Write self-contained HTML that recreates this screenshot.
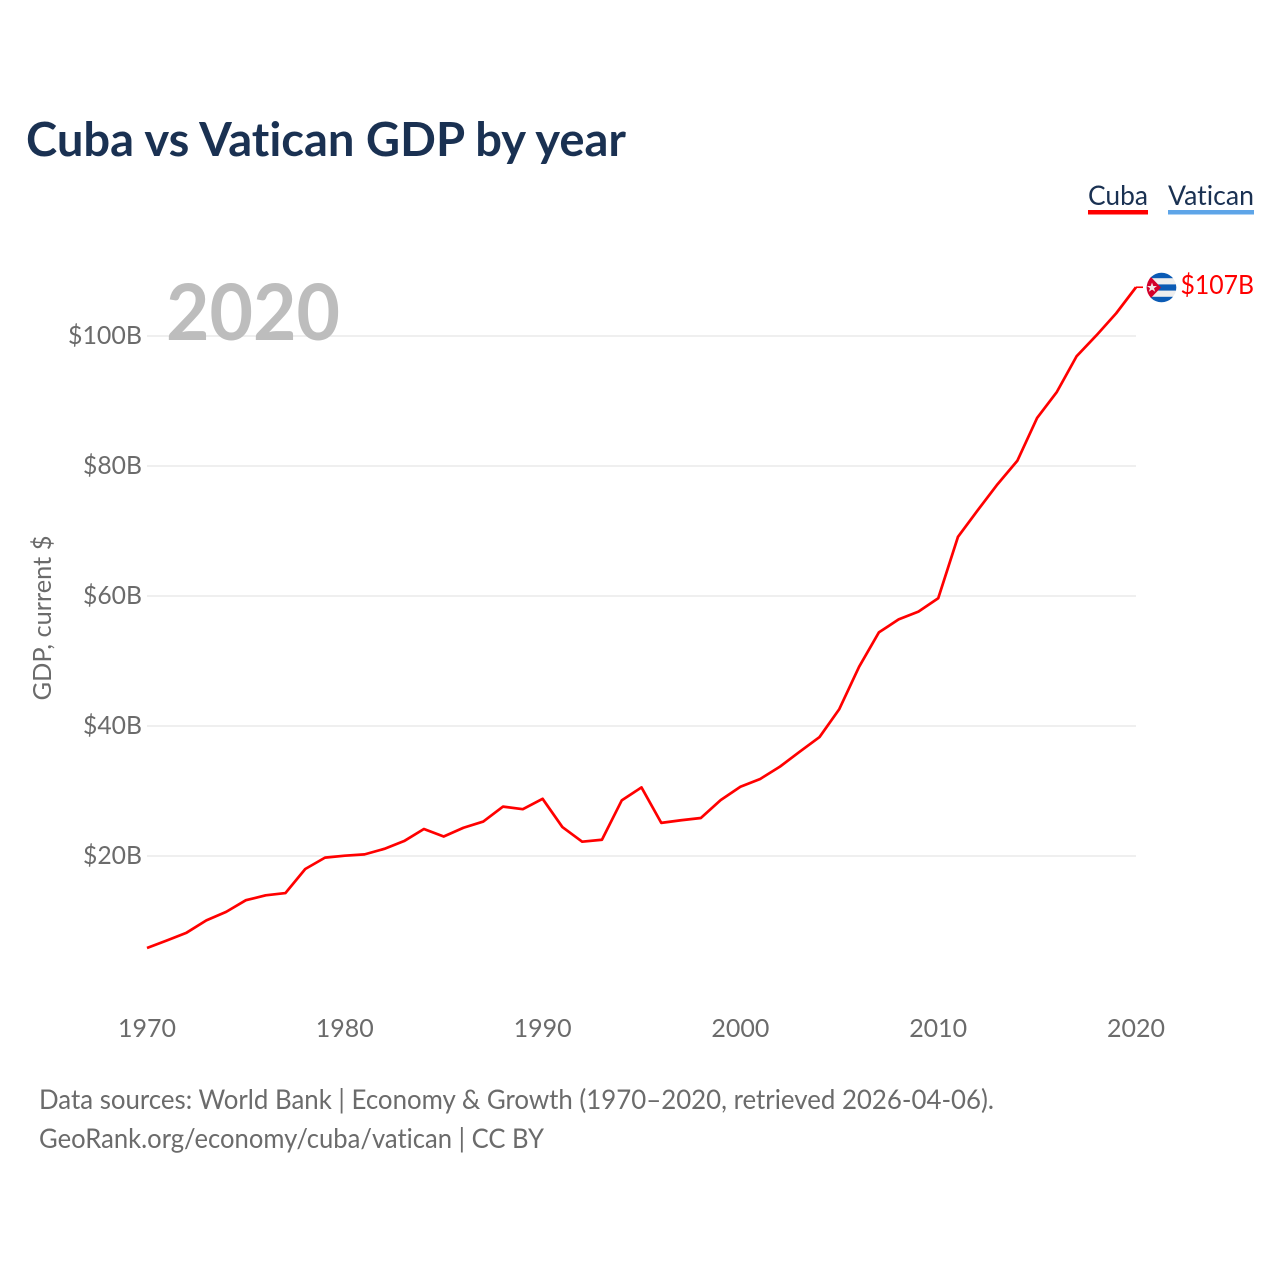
<!DOCTYPE html>
<html lang="en">
<head>
<meta charset="utf-8">
<title>Cuba vs Vatican GDP by year</title>
<style>
html,body{margin:0;padding:0;background:#fff;}
svg{display:block;}
text{font-family:"Lato","Carlito","Liberation Sans",sans-serif;font-variant-ligatures:none;}
</style>
</head>
<body>
<svg id="chart" width="1280" height="1280" viewBox="0 0 1280 1280" xmlns="http://www.w3.org/2000/svg">
  <defs><clipPath id="flag-clip"><circle cx="1161.5" cy="287.5" r="14.8"/></clipPath></defs>
  <text x="26" y="156" font-size="47" font-weight="700" fill="#1a3152" textLength="600" lengthAdjust="spacingAndGlyphs">Cuba vs Vatican GDP by year</text>
  <g>
    <g>
      <text x="1088" y="205" font-size="27.5" fill="#1a3152" textLength="60" lengthAdjust="spacingAndGlyphs">Cuba</text>
      <rect x="1088" y="210" width="60" height="4.5" fill="#ff0000"/>
    </g>
    <g>
      <text x="1168" y="205" font-size="27.5" fill="#1a3152" textLength="86" lengthAdjust="spacingAndGlyphs">Vatican</text>
      <rect x="1168" y="210" width="86" height="4.5" fill="#5ea5e8"/>
    </g>
  </g>
  <g id="grid"></g>
  <text x="166" y="340" font-size="78" font-weight="700" fill="#bdbdbd" textLength="174" lengthAdjust="spacingAndGlyphs">2020</text>
  <g id="yticks"></g>
  <g id="xticks"></g>
  <text transform="translate(51,618) rotate(-90)" text-anchor="middle" font-size="25.5" fill="#6b6b6b" textLength="165" lengthAdjust="spacingAndGlyphs">GDP, current $</text>
  <path id="line-cuba" fill="none" stroke="#ff0000" stroke-width="2.7" stroke-linejoin="round"/>
  <path id="connector" fill="none" stroke="#ff0000" stroke-width="1.6"/>
  <g id="flag" clip-path="url(#flag-clip)">
    <rect x="1146" y="272" width="32" height="31" fill="#eeeeee"/>
    <rect x="1146" y="272" width="32" height="6.2" fill="#0b5bb5"/>
    <rect x="1146" y="284.4" width="32" height="6.2" fill="#0b5bb5"/>
    <rect x="1146" y="296.8" width="32" height="6.2" fill="#0b5bb5"/>
    <polygon points="1146,272 1161,287.5 1146,303" fill="#d3002a"/>
    <polygon points="1152,282.5 1153.3,286 1157,286 1154,288.2 1155.2,291.8 1152,289.6 1148.8,291.8 1150,288.2 1147,286 1150.7,286" fill="#f2e6e6"/>
  </g>
  <text x="1180.5" y="294" font-size="26.5" fill="#ff0000" textLength="73.5" lengthAdjust="spacingAndGlyphs">$107B</text>
  <text x="39" y="1109" font-size="27.5" fill="#6b6b6b" textLength="955" lengthAdjust="spacingAndGlyphs">Data sources: World Bank | Economy &amp; Growth (1970–2020, retrieved 2026-04-06).</text>
  <text x="39" y="1148" font-size="27.5" fill="#6b6b6b" textLength="505" lengthAdjust="spacingAndGlyphs">GeoRank.org/economy/cuba/vatican | CC BY</text>
</svg>
<script>
const years = [1970,1971,1972,1973,1974,1975,1976,1977,1978,1979,1980,1981,1982,1983,1984,1985,1986,1987,1988,1989,1990,1991,1992,1993,1994,1995,1996,1997,1998,1999,2000,2001,2002,2003,2004,2005,2006,2007,2008,2009,2010,2011,2012,2013,2014,2015,2016,2017,2018,2019,2020];
const cubaGdp = [5.85,7.0,8.2,10.1,11.4,13.2,13.95,14.3,18.0,19.75,20.05,20.25,21.1,22.3,24.15,23.0,24.35,25.3,27.6,27.2,28.8,24.45,22.2,22.5,28.55,30.55,25.1,25.5,25.85,28.6,30.65,31.85,33.75,36.05,38.3,42.6,49.1,54.4,56.4,57.6,59.65,69.1,73.2,77.2,80.8,87.4,91.4,96.9,100.1,103.5,107.5];
const yTickValues = [20,40,60,80,100];
const yTickLabels = ["$20B","$40B","$60B","$80B","$100B"];
const xTickValues = [1970,1980,1990,2000,2010,2020];
const xTickLabels = ["1970","1980","1990","2000","2010","2020"];

const xScale = function (yr) { return 147 + (yr - 1970) * 19.78; };
const yScale = function (v) { return 986 - v * 6.5; };
const NS = "http://www.w3.org/2000/svg";

const gridGroup = document.getElementById("grid");
const yGroup = document.getElementById("yticks");
yTickValues.forEach(function (v, i) {
  const ln = document.createElementNS(NS, "line");
  
  
  ln.setAttribute("x1", xScale(1970));
  ln.setAttribute("x2", xScale(2020));
  ln.setAttribute("y1", yScale(v));
  ln.setAttribute("y2", yScale(v));
  ln.setAttribute("stroke", "#efefef");
  ln.setAttribute("stroke-width", "2");
  gridGroup.appendChild(ln);
  const t = document.createElementNS(NS, "text");
  
  
  t.setAttribute("x", 142);
  t.setAttribute("y", yScale(v) + 8);
  t.setAttribute("text-anchor", "end");
  t.setAttribute("font-size", "25.5");
  t.setAttribute("fill", "#6b6b6b");
  t.setAttribute("textLength", yTickLabels[i].length === 5 ? 74 : 59);
  t.setAttribute("lengthAdjust", "spacingAndGlyphs");
  t.textContent = yTickLabels[i];
  yGroup.appendChild(t);
});

const xGroup = document.getElementById("xticks");
xTickValues.forEach(function (yr, i) {
  const t = document.createElementNS(NS, "text");
  
  
  t.setAttribute("x", xScale(yr));
  t.setAttribute("y", 1037);
  t.setAttribute("text-anchor", "middle");
  t.setAttribute("font-size", "25.5");
  t.setAttribute("fill", "#6b6b6b");
  t.setAttribute("textLength", 58);
  t.setAttribute("lengthAdjust", "spacingAndGlyphs");
  t.textContent = xTickLabels[i];
  xGroup.appendChild(t);
});

document.getElementById("line-cuba").setAttribute("d", cubaGdp.map(function (v, i) {
  return (i ? "L" : "M") + xScale(years[i]).toFixed(2) + "," + yScale(v).toFixed(2);
}).join(""));
const lastY = yScale(cubaGdp[cubaGdp.length - 1]);
document.getElementById("connector").setAttribute("d", "M" + xScale(2020) + "," + lastY + "H1143");
</script>
</body>
</html>
